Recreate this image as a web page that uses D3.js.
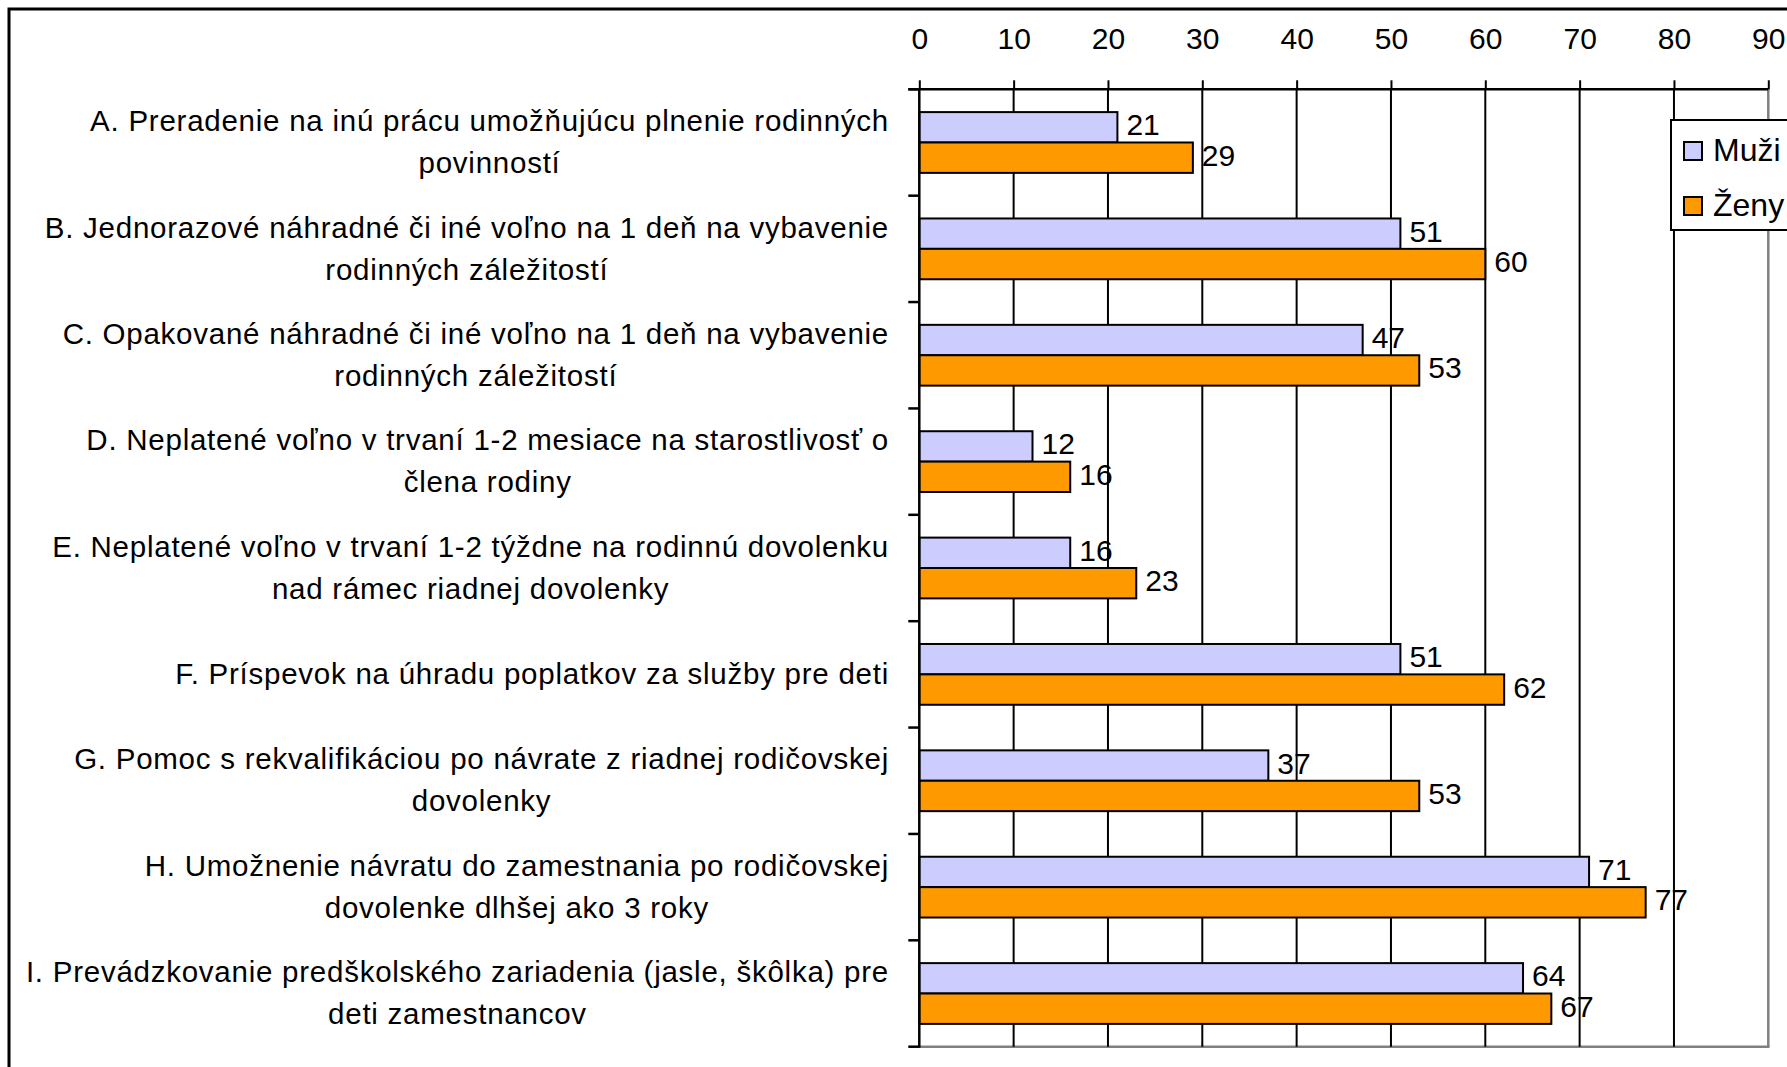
<!DOCTYPE html>
<html>
<head>
<meta charset="utf-8">
<script src="https://cdn.jsdelivr.net/npm/d3@7"></script>
<style>
  html, body { margin: 0; padding: 0; background: #fff; overflow: hidden; }
  svg { display: block; font-family: "Liberation Sans", Arial, sans-serif; }
</style>
</head>
<body>
<svg id="chart" width="1787" height="1067"></svg>
<script>
// ---- data ----
const categories = ["A", "B", "C", "D", "E", "F", "G", "H", "I"];
const categoryLabels = [
  ["A. Preradenie na inú prácu umožňujúcu plnenie rodinných", "povinností"],
  ["B. Jednorazové náhradné či iné voľno na 1 deň na vybavenie", "rodinných záležitostí"],
  ["C. Opakované náhradné či iné voľno na 1 deň na vybavenie", "rodinných záležitostí"],
  ["D. Neplatené voľno v trvaní 1-2 mesiace na starostlivosť o", "člena rodiny"],
  ["E. Neplatené voľno v trvaní 1-2 týždne na rodinnú dovolenku", "nad rámec riadnej dovolenky"],
  ["F. Príspevok na úhradu poplatkov za služby pre deti"],
  ["G. Pomoc s rekvalifikáciou po návrate z riadnej rodičovskej", "dovolenky"],
  ["H. Umožnenie návratu do zamestnania po rodičovskej", "dovolenke dlhšej ako 3 roky"],
  ["I. Prevádzkovanie predškolského zariadenia (jasle, škôlka) pre", "deti zamestnancov"]
];
const seriesNames = ["Muži", "Ženy"];
const muzi = [21, 51, 47, 12, 16, 51, 37, 71, 64];
const zeny = [29, 60, 53, 16, 23, 62, 53, 77, 67];
const xTicks = [0, 10, 20, 30, 40, 50, 60, 70, 80, 90];
const seriesColors = ["#CCCCFF", "#FF9900"];

// ---- layout ----
const plot = { left: 919.3, right: 1768.3, top: 89.3, bottom: 1046.7 };
const svg = d3.select("#chart");

// outer border (extends past the visible frame on right and bottom)
svg.append("rect")
  .attr("x", 9).attr("y", 9).attr("width", 2400).attr("height", 2400)
  .attr("fill", "#fff").attr("stroke", "#000").attr("stroke-width", 3);

const x = d3.scaleLinear().domain([0, 90]).range([plot.left, plot.right]);
const y = d3.scaleBand().domain(categories).range([plot.top, plot.bottom]).padding(0);
const ySub = d3.scaleBand().domain(seriesNames).range([0, y.bandwidth()])
  .paddingInner(0).paddingOuter(0.75);

// plot border (right & bottom gray)
svg.append("line")
  .attr("x1", x(90)).attr("x2", x(90)).attr("y1", plot.top).attr("y2", plot.bottom)
  .attr("stroke", "#808080").attr("stroke-width", 2.5);
svg.append("line")
  .attr("x1", plot.left).attr("x2", x(90) + 1.2).attr("y1", plot.bottom).attr("y2", plot.bottom)
  .attr("stroke", "#808080").attr("stroke-width", 2.5);

// gridlines
svg.append("g").selectAll("line")
  .data(xTicks.filter(d => d > 0 && d < 90))
  .join("line")
  .attr("x1", d => x(d)).attr("x2", d => x(d))
  .attr("y1", plot.top).attr("y2", plot.bottom)
  .attr("stroke", "#000").attr("stroke-width", 2);

// top axis
const xAxis = d3.axisTop(x).tickValues(xTicks).tickSize(9).tickPadding(31).tickFormat(d3.format("d"));
const gx = svg.append("g").attr("transform", `translate(0,${plot.top})`).call(xAxis);
gx.select(".domain").remove();
gx.selectAll(".tick line").attr("stroke", "#000").attr("stroke-width", 2);
gx.selectAll(".tick text")
  .attr("fill", "#000").attr("font-size", 30)
  .attr("font-family", "'Liberation Sans', Arial, sans-serif");
svg.append("line")
  .attr("x1", plot.left - 11).attr("x2", plot.right).attr("y1", plot.top).attr("y2", plot.top)
  .attr("stroke", "#000").attr("stroke-width", 2.5);

// bars
const series = [muzi, zeny];
const barG = svg.append("g");
series.forEach((vals, si) => {
  barG.selectAll(null)
    .data(categories.map((c, i) => ({ c, v: vals[i] })))
    .join("rect")
    .attr("x", x(0))
    .attr("y", d => y(d.c) + ySub(seriesNames[si]))
    .attr("width", d => x(d.v) - x(0))
    .attr("height", ySub.bandwidth())
    .attr("fill", seriesColors[si])
    .attr("stroke", "#000").attr("stroke-width", 2);
});

// left axis line and boundary ticks
svg.append("line")
  .attr("x1", plot.left).attr("x2", plot.left).attr("y1", plot.top).attr("y2", plot.bottom + 1)
  .attr("stroke", "#000").attr("stroke-width", 2.5);
const boundaries = categories.map(c => y(c)).concat([plot.bottom]);
svg.append("g").selectAll("line")
  .data(boundaries)
  .join("line")
  .attr("x1", plot.left - 11).attr("x2", plot.left)
  .attr("y1", d => d).attr("y2", d => d)
  .attr("stroke", "#000").attr("stroke-width", 2.5);

// value labels
const labelG = svg.append("g")
  .attr("font-size", 30).attr("fill", "#000");
series.forEach((vals, si) => {
  labelG.selectAll(null)
    .data(categories.map((c, i) => ({ c, v: vals[i] })))
    .join("text")
    .attr("x", d => x(d.v) + 9)
    .attr("y", d => y(d.c) + ySub(seriesNames[si]) + ySub.bandwidth() / 2 + 8)
    .text(d => d.v);
});

// category labels
const catFont = 29.5, lineGap = 42, labelRight = 889;
const catG = svg.append("g").attr("font-size", catFont).attr("fill", "#000")
  .attr("letter-spacing", "0.75px");
categories.forEach((c, i) => {
  const lines = categoryLabels[i];
  const center = y(c) + y.bandwidth() / 2;
  const texts = lines.map((ln, li) =>
    catG.append("text")
      .attr("text-anchor", "middle")
      .attr("y", center + (li - (lines.length - 1) / 2) * lineGap + catFont * 0.33)
      .text(ln));
  const maxW = d3.max(texts, t => t.node().getComputedTextLength());
  texts.forEach(t => t.attr("x", labelRight - maxW / 2));
});

// legend
const lg = svg.append("g");
lg.append("rect")
  .attr("x", 1671).attr("y", 120).attr("width", 300).attr("height", 110)
  .attr("fill", "#fff").attr("stroke", "#000").attr("stroke-width", 2);
seriesNames.forEach((name, i) => {
  lg.append("rect")
    .attr("x", 1684).attr("y", 142 + i * 55).attr("width", 18).attr("height", 18)
    .attr("fill", seriesColors[i]).attr("stroke", "#000").attr("stroke-width", 2);
  lg.append("text")
    .attr("x", 1713).attr("y", 161 + i * 55)
    .attr("font-size", 32).attr("fill", "#000")
    .text(name);
});
</script>
</body>
</html>
